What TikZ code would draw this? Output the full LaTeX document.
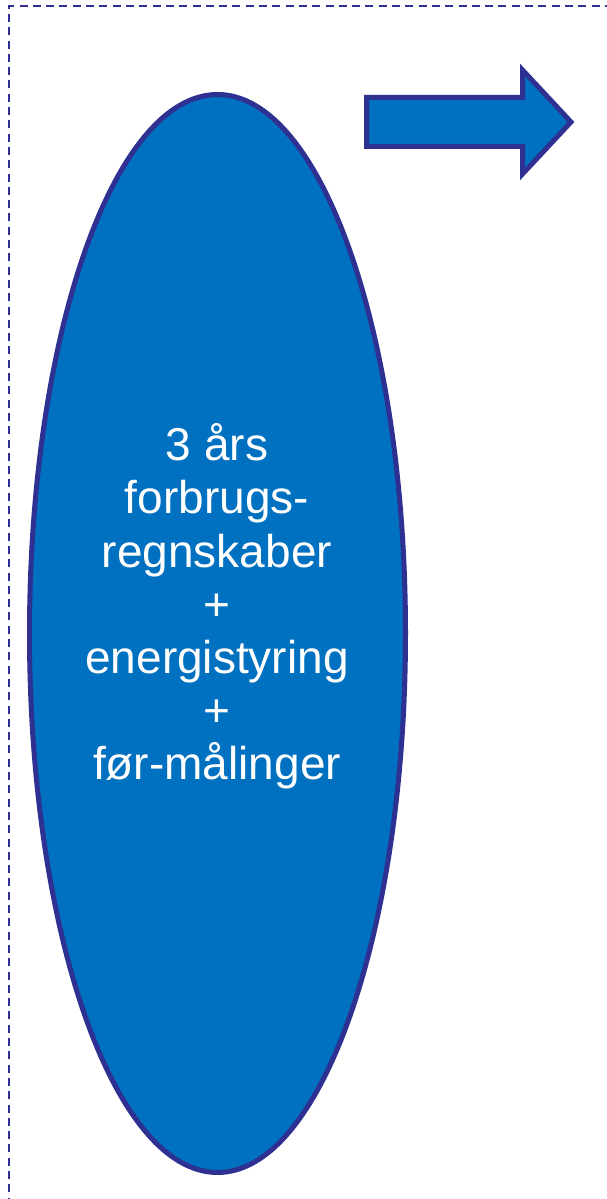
\documentclass[tikz,border=0pt]{standalone}
\usepackage{fontspec}
\setmainfont{Liberation Sans}
\usetikzlibrary{shapes.geometric}
\definecolor{edgeblue}{HTML}{2E3192}
\definecolor{fillblue}{HTML}{0070C0}
\tikzset{
  frameline/.style={draw=edgeblue, line width=1.4pt, dash pattern=on 8pt off 5.3pt},
  bigoval/.style={ellipse, draw=edgeblue, fill=fillblue, line width=5pt, minimum width=376pt, minimum height=1078pt, inner sep=0pt},
  blockarrow/.style={draw=edgeblue, fill=fillblue, line width=5pt, line join=miter},
  ovaltext/.style={text=white, align=center, font=\fontsize{46}{53.2}\selectfont, inner sep=0pt}
}
\begin{document}
\begin{tikzpicture}[x=1pt,y=1pt]
\useasboundingbox (0,0) rectangle (607,1199);
\coordinate (fbl) at (9,-20);
\coordinate (ftl) at (9,1193);
\coordinate (ftr) at (630,1193);
\draw[frameline] (fbl) -- (ftl) -- (ftr);
\node[bigoval] (oval) at (217.5,565.5) {};
\node[ovaltext, anchor=base] (label) at (217,419) {3 års\\forbrugs-\\regnskaber\\+\\energistyring\\+\\før-målinger};
\draw[blockarrow] (366.5,1101.5) -- (522.5,1101.5) -- (522.5,1129) -- (571,1077) -- (522.5,1025) -- (522.5,1052.5) -- (366.5,1052.5) -- cycle;
\end{tikzpicture}
\end{document}
